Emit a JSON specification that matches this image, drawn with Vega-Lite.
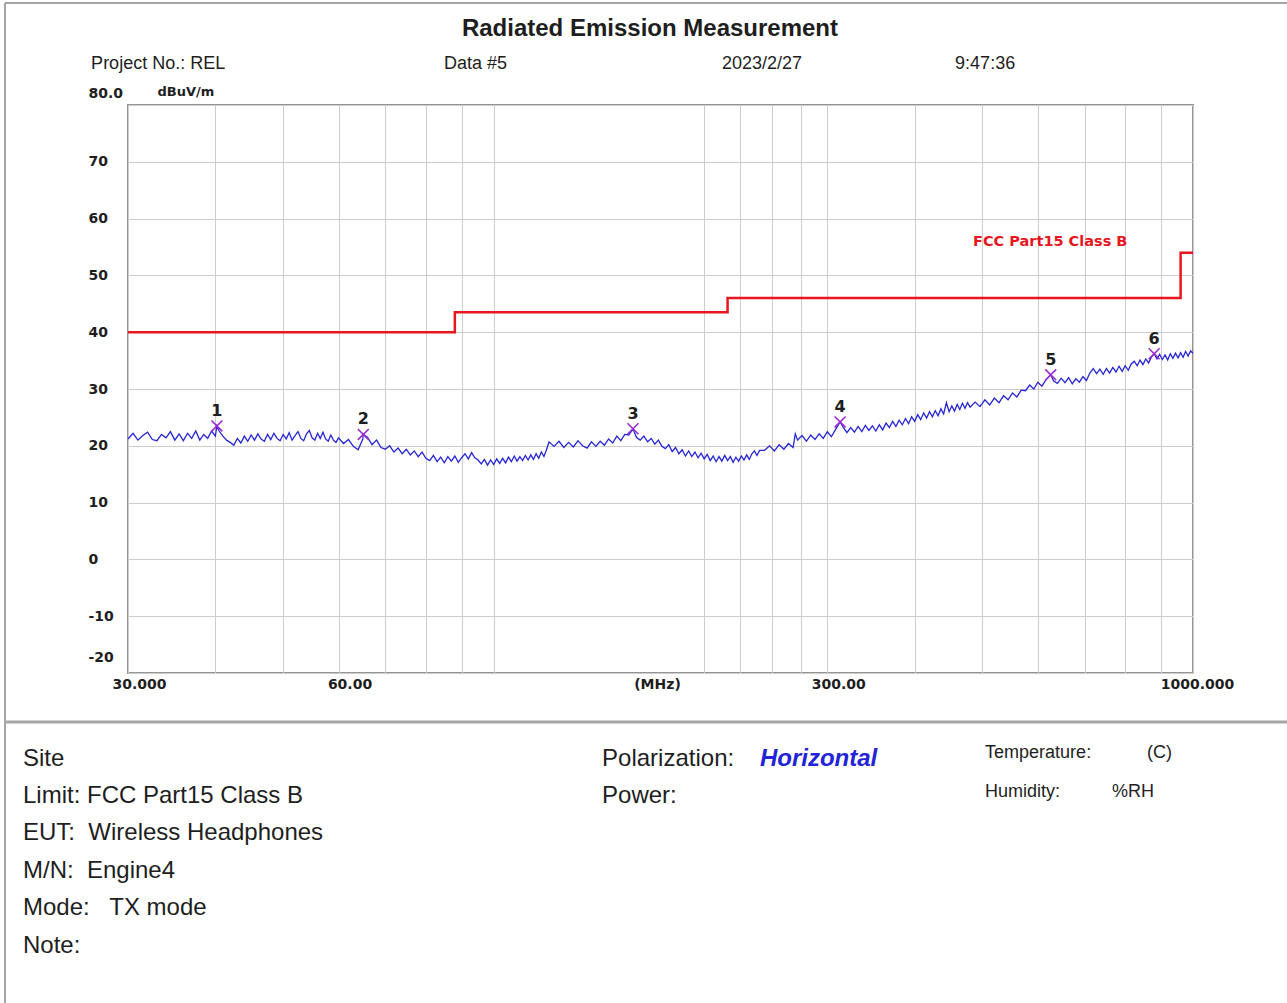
{
  "$schema": "https://vega.github.io/schema/vega-lite/v6.json",
  "width": 1065,
  "height": 568,
  "autosize": {"type": "none"},
  "padding": {"left": 128, "top": 105, "right": 94, "bottom": 330},
  "background": "white",
  "config": {
    "view": {"stroke": "#959595", "strokeWidth": 2},
    "text": {"font": "Liberation Sans", "color": "#1e1e1e"}
  },
  "datasets": {
    "trace": [
      {"f":30,"v":21.2},{"f":30.5,"v":22.2},{"f":31,"v":21.0},{"f":31.5,"v":21.8},{"f":32,"v":22.4},{"f":32.5,"v":21.1},{"f":33,"v":20.9},{"f":33.5,"v":22.0},{"f":34,"v":21.4},{"f":34.5,"v":22.5},
      {"f":35,"v":21.0},{"f":35.5,"v":22.1},{"f":36,"v":20.9},{"f":36.5,"v":22.2},{"f":37,"v":21.3},{"f":37.5,"v":22.6},{"f":38,"v":21.0},{"f":38.5,"v":22.0},{"f":39,"v":21.3},{"f":39.5,"v":22.6},
      {"f":40,"v":21.7},{"f":40.2,"v":23.5},{"f":40.5,"v":22.6},{"f":41,"v":21.7},{"f":41.5,"v":21.0},{"f":42,"v":20.6},{"f":42.5,"v":20.1},{"f":43,"v":21.3},{"f":43.5,"v":20.5},{"f":44,"v":21.7},
      {"f":44.5,"v":20.8},{"f":45,"v":21.9},{"f":45.5,"v":21.0},{"f":46,"v":22.1},{"f":46.5,"v":21.2},{"f":47,"v":20.8},{"f":47.5,"v":22.0},{"f":48,"v":21.1},{"f":48.5,"v":22.2},{"f":49,"v":21.3},
      {"f":49.5,"v":20.9},{"f":50,"v":22.0},{"f":50.5,"v":21.2},{"f":51,"v":22.3},{"f":51.5,"v":21.0},{"f":52,"v":21.8},{"f":52.5,"v":22.5},{"f":53,"v":21.3},{"f":53.5,"v":20.9},{"f":54,"v":22.1},
      {"f":54.5,"v":22.7},{"f":55,"v":21.4},{"f":55.5,"v":21.0},{"f":56,"v":22.2},{"f":56.5,"v":21.3},{"f":57,"v":22.4},{"f":57.5,"v":21.2},{"f":58,"v":20.8},{"f":58.5,"v":21.9},{"f":59,"v":21.0},
      {"f":59.5,"v":20.6},{"f":60,"v":21.4},
      {"f":61,"v":20.4},{"f":62,"v":21.1},{"f":63,"v":19.9},{"f":64,"v":19.3},{"f":65,"v":21.2},{"f":65.1,"v":22.0},{"f":66,"v":21.5},{"f":67,"v":20.2},{"f":68,"v":21.0},{"f":69,"v":19.7},
      {"f":70,"v":19.4},{"f":71,"v":20.0},{"f":72,"v":18.9},{"f":73,"v":19.6},{"f":74,"v":18.6},{"f":75,"v":19.4},{"f":76,"v":18.4},{"f":77,"v":19.1},{"f":78,"v":18.1},{"f":79,"v":18.9},
      {"f":80,"v":17.8},{"f":81,"v":17.4},{"f":82,"v":18.3},{"f":83,"v":17.2},{"f":84,"v":18.0},{"f":85,"v":17.0},{"f":86,"v":18.1},{"f":87,"v":17.3},{"f":88,"v":18.2},{"f":89,"v":17.1},
      {"f":90,"v":17.9},{"f":91,"v":18.6},{"f":92,"v":17.7},{"f":93,"v":18.8},{"f":94,"v":17.9},{"f":95,"v":17.5},{"f":96,"v":16.8},{"f":97,"v":17.6},{"f":98,"v":16.6},{"f":99,"v":17.5},
      {"f":100,"v":16.7},{"f":101,"v":17.7},{"f":102,"v":16.9},{"f":103,"v":17.8},{"f":104,"v":17.0},{"f":105,"v":18.0},{"f":106,"v":17.2},{"f":107,"v":18.2},{"f":108,"v":17.3},{"f":109,"v":18.1},
      {"f":110,"v":17.4},{"f":111,"v":18.3},{"f":112,"v":17.5},{"f":113,"v":18.4},{"f":114,"v":17.6},{"f":115,"v":18.6},{"f":116,"v":17.8},{"f":117,"v":18.9},{"f":118,"v":18.1},{"f":119,"v":19.3},
      {"f":120,"v":20.7},
      {"f":122,"v":19.9},{"f":124,"v":20.8},{"f":126,"v":19.7},{"f":128,"v":20.6},{"f":130,"v":19.8},{"f":132,"v":20.9},{"f":134,"v":20.0},{"f":136,"v":19.6},{"f":138,"v":20.7},{"f":140,"v":19.9},
      {"f":142,"v":20.8},{"f":144,"v":20.1},{"f":146,"v":21.2},{"f":148,"v":20.5},{"f":150,"v":21.7},{"f":152,"v":20.9},{"f":154,"v":22.0},{"f":156,"v":21.9},{"f":158.2,"v":23.0},{"f":160,"v":21.5},
      {"f":162,"v":21.0},{"f":164,"v":21.7},{"f":166,"v":20.7},{"f":168,"v":21.3},{"f":170,"v":20.3},{"f":172,"v":21.0},{"f":174,"v":19.9},{"f":176,"v":19.5},{"f":178,"v":20.2},{"f":180,"v":19.0},
      {"f":182,"v":19.7},{"f":184,"v":18.6},{"f":186,"v":19.3},{"f":188,"v":18.2},{"f":190,"v":19.1},{"f":192,"v":18.1},{"f":194,"v":18.9},{"f":196,"v":17.9},{"f":198,"v":18.7},{"f":200,"v":17.7},
      {"f":202,"v":18.5},{"f":204,"v":17.4},{"f":206,"v":18.2},{"f":208,"v":17.2},{"f":210,"v":18.1},{"f":212,"v":17.3},{"f":214,"v":18.3},{"f":216,"v":17.4},{"f":218,"v":18.1},{"f":220,"v":17.1},
      {"f":222,"v":18.0},{"f":224,"v":17.3},{"f":226,"v":18.2},{"f":228,"v":17.5},{"f":230,"v":18.4},{"f":232,"v":17.6},{"f":234,"v":18.6},{"f":236,"v":19.1},{"f":238,"v":18.3},{"f":240,"v":19.2},
      {"f":244,"v":19.2},{"f":248,"v":20.0},{"f":252,"v":19.1},{"f":256,"v":20.2},{"f":260,"v":19.4},{"f":264,"v":20.4},{"f":268,"v":19.7},{"f":270,"v":22.1},{"f":272,"v":21.0},{"f":276,"v":21.8},
      {"f":280,"v":20.8},{"f":284,"v":21.9},{"f":288,"v":21.1},{"f":292,"v":22.1},{"f":296,"v":21.3},{"f":300,"v":22.5},{"f":304,"v":21.6},{"f":308,"v":22.8},{"f":312.9,"v":24.2},{"f":316,"v":23.3},
      {"f":320,"v":22.3},{"f":324,"v":23.2},{"f":328,"v":22.4},{"f":332,"v":23.4},{"f":336,"v":22.5},{"f":340,"v":23.6},{"f":344,"v":22.7},{"f":348,"v":23.5},{"f":352,"v":22.6},{"f":356,"v":23.7},
      {"f":360,"v":22.8},{"f":364,"v":24.0},{"f":368,"v":23.2},{"f":372,"v":24.3},{"f":376,"v":23.4},{"f":380,"v":24.5},{"f":384,"v":23.7},{"f":388,"v":24.8},{"f":392,"v":23.9},{"f":396,"v":25.1},
      {"f":400,"v":24.3},{"f":404,"v":25.5},{"f":408,"v":24.6},{"f":412,"v":25.8},{"f":416,"v":24.9},{"f":420,"v":26.0},{"f":424,"v":25.1},{"f":428,"v":26.2},{"f":432,"v":25.3},{"f":436,"v":26.5},
      {"f":440,"v":25.6},{"f":444,"v":27.6},{"f":448,"v":26.0},{"f":452,"v":27.0},{"f":456,"v":26.1},{"f":460,"v":27.3},{"f":464,"v":26.4},{"f":468,"v":27.5},{"f":472,"v":26.6},{"f":476,"v":27.6},
      {"f":480,"v":26.8},
      {"f":488,"v":27.7},{"f":496,"v":26.9},{"f":504,"v":28.1},{"f":512,"v":27.2},{"f":520,"v":28.4},{"f":528,"v":27.6},{"f":536,"v":28.8},{"f":544,"v":28.1},{"f":552,"v":29.3},{"f":560,"v":28.6},
      {"f":568,"v":29.8},{"f":576,"v":29.7},{"f":584,"v":30.7},{"f":592,"v":30.0},{"f":600,"v":31.2},{"f":608,"v":30.5},{"f":616,"v":31.6},{"f":626,"v":32.5},{"f":632,"v":31.4},{"f":640,"v":31.0},
      {"f":648,"v":31.9},{"f":656,"v":31.1},{"f":664,"v":32.0},{"f":672,"v":30.9},{"f":680,"v":31.8},{"f":688,"v":31.2},{"f":696,"v":32.2},{"f":704,"v":31.5},{"f":712,"v":32.8},{"f":720,"v":33.6},
      {"f":728,"v":32.7},{"f":736,"v":33.5},{"f":744,"v":32.6},{"f":752,"v":33.6},{"f":760,"v":32.8},{"f":768,"v":33.8},{"f":776,"v":33.0},{"f":784,"v":34.0},{"f":792,"v":33.1},{"f":800,"v":34.1},
      {"f":808,"v":33.3},{"f":816,"v":34.4},{"f":824,"v":34.9},{"f":832,"v":34.1},{"f":840,"v":35.1},{"f":848,"v":34.3},{"f":856,"v":35.3},{"f":864,"v":34.6},{"f":872,"v":35.6},{"f":880,"v":36.2},
      {"f":888,"v":35.3},{"f":896,"v":36.1},{"f":904,"v":35.2},{"f":912,"v":36.0},{"f":920,"v":35.1},{"f":928,"v":36.2},{"f":936,"v":35.4},{"f":944,"v":36.3},{"f":952,"v":35.5},{"f":960,"v":36.4},
      {"f":968,"v":35.6},{"f":976,"v":36.6},{"f":984,"v":35.8},{"f":992,"v":36.7},{"f":1000,"v":36.3}
    ],
    "limit": [
      {"f":30,"v":40},{"f":88,"v":43.5},{"f":216,"v":46},{"f":960,"v":54},{"f":1000,"v":54}
    ],
    "peaks": [
      {"n":"1","f":40.2,"v":23.5},{"n":"2","f":65.1,"v":22.0},{"n":"3","f":158.2,"v":23.0},
      {"n":"4","f":312.9,"v":24.2},{"n":"5","f":626,"v":32.5},{"n":"6","f":880,"v":36.2}
    ]
  },
  "layer": [
    {
      "data": {"name": "trace"},
      "mark": {"type": "line", "color": "#2626d4", "strokeWidth": 1.3, "clip": false},
      "encoding": {
        "x": {
          "field": "f", "type": "quantitative",
          "scale": {"type": "log", "domain": [30, 1000], "nice": false},
          "axis": {
            "title": "(MHz)",
            "values": [30,40,50,60,70,80,90,100,200,225,250,275,300,400,500,600,700,800,900,1000],
            "labelExpr": "datum.value == 30 ? '30.000' : datum.value == 60 ? '60.00' : datum.value == 300 ? '\u2007300.00' : datum.value == 1000 ? '1000.000' : ''",
            "grid": true, "gridColor": "#cdcdcd", "gridWidth": 1,
            "ticks": false, "domain": false,
            "labelFont": "DejaVu Sans", "labelFontWeight": "bold", "labelFontSize": 14, "labelColor": "#1e1e1e",
            "labelBaseline": "top", "labelPadding": 4,
            "labelOffset": {"condition": {"test": "datum.value == 1000", "value": 4}, "value": 11},
            "labelOverlap": false, "labelFlush": false, "labelBound": false,
            "titleFont": "DejaVu Sans", "titleFontWeight": "bold", "titleFontSize": 14, "titleColor": "#1e1e1e",
            "titleX": 529, "titleY": 4, "titleAlign": "center", "titleBaseline": "top"
          }
        },
        "y": {
          "field": "v", "type": "quantitative",
          "scale": {"domain": [-20, 80], "nice": false, "zero": false},
          "axis": {
            "title": "dBuV/m",
            "values": [-20,-10,0,10,20,30,40,50,60,70,80],
            "labelExpr": "datum.value == 80 ? '80.0' : '' + datum.value",
            "grid": true, "gridColor": "#cdcdcd", "gridWidth": 1,
            "ticks": false, "domain": false,
            "labelFont": "DejaVu Sans", "labelFontWeight": "bold", "labelFontSize": 14, "labelColor": "#1e1e1e",
            "labelAlign": "left", "labelPadding": 40,
            "labelBaseline": {"condition": {"test": "datum.value == -20", "value": "alphabetic"}, "value": "middle"},
            "labelOffset": {"condition": {"test": "datum.value == 80 || datum.value == -20", "value": -12}, "value": 0},
            "labelOverlap": false, "labelFlush": false, "labelBound": false,
            "titleFont": "DejaVu Sans", "titleFontWeight": "bold", "titleFontSize": 13, "titleColor": "#1e1e1e",
            "titleAngle": 0, "titleAlign": "left", "titleBaseline": "middle", "titleX": 29, "titleY": -14
          }
        }
      }
    },
    {
      "data": {"name": "limit"},
      "mark": {"type": "line", "color": "#e8161e", "strokeWidth": 2.5, "interpolate": "step-after", "clip": false},
      "encoding": {
        "x": {"field": "f", "type": "quantitative"},
        "y": {"field": "v", "type": "quantitative"}
      }
    },
    {
      "data": {"name": "peaks"},
      "mark": {"type": "point", "shape": "M-1,-1L1,1M-1,1L1,-1", "filled": false, "size": 120, "strokeWidth": 1.6, "color": "#9a2ccf", "opacity": 1},
      "encoding": {
        "x": {"field": "f", "type": "quantitative"},
        "y": {"field": "v", "type": "quantitative"}
      }
    },
    {
      "data": {"name": "peaks"},
      "mark": {"type": "text", "font": "DejaVu Sans", "fontWeight": "bold", "fontSize": 16, "dy": -15, "baseline": "middle", "align": "center"},
      "encoding": {
        "x": {"field": "f", "type": "quantitative"},
        "y": {"field": "v", "type": "quantitative"},
        "text": {"field": "n"}
      }
    },
    {
      "data": {"values": [{}]},
      "mark": {"type": "text", "text": "FCC Part15 Class B", "font": "DejaVu Sans", "fontWeight": "bold", "fontSize": 14.5, "color": "#e8161e", "align": "left", "baseline": "alphabetic", "clip": false},
      "encoding": {"x": {"datum": 484.7, "type": "quantitative"}, "y": {"datum": 55.2, "type": "quantitative"}}
    },
    {
      "data": {"values": [{}]},
      "mark": {"type": "text", "text": "Radiated Emission Measurement", "fontWeight": "bold", "fontSize": 24, "align": "center", "baseline": "alphabetic", "clip": false},
      "encoding": {"x": {"datum": 167.3, "type": "quantitative"}, "y": {"datum": 92.2, "type": "quantitative"}}
    },
    {
      "data": {"values": [{}]},
      "mark": {"type": "text", "text": "Project No.: REL", "fontSize": 18, "align": "left", "baseline": "alphabetic", "clip": false},
      "encoding": {"x": {"datum": 26.57, "type": "quantitative"}, "y": {"datum": 86.4, "type": "quantitative"}}
    },
    {
      "data": {"values": [{}]},
      "mark": {"type": "text", "text": "Data #5", "fontSize": 18, "align": "left", "baseline": "alphabetic", "clip": false},
      "encoding": {"x": {"datum": 84.9, "type": "quantitative"}, "y": {"datum": 86.4, "type": "quantitative"}}
    },
    {
      "data": {"values": [{}]},
      "mark": {"type": "text", "text": "2023/2/27", "fontSize": 18, "align": "left", "baseline": "alphabetic", "clip": false},
      "encoding": {"x": {"datum": 212.1, "type": "quantitative"}, "y": {"datum": 86.4, "type": "quantitative"}}
    },
    {
      "data": {"values": [{}]},
      "mark": {"type": "text", "text": "9:47:36", "fontSize": 18, "align": "left", "baseline": "alphabetic", "clip": false},
      "encoding": {"x": {"datum": 456.9, "type": "quantitative"}, "y": {"datum": 86.4, "type": "quantitative"}}
    },
    {
      "data": {"values": [{}]},
      "mark": {"type": "rule", "color": "#a6a6a6", "strokeWidth": 2, "clip": false},
      "encoding": {"x": {"datum": 20.01, "type": "quantitative"}, "x2": {"datum": 1400}, "y": {"datum": 97.96, "type": "quantitative"}}
    },
    {
      "data": {"values": [{}]},
      "mark": {"type": "rule", "color": "#a6a6a6", "strokeWidth": 2, "clip": false},
      "encoding": {"x": {"datum": 20.01, "type": "quantitative"}, "y": {"datum": 97.96, "type": "quantitative"}, "y2": {"datum": -82}}
    },
    {
      "data": {"values": [{}]},
      "mark": {"type": "rule", "color": "#a6a6a6", "strokeWidth": 3, "clip": false},
      "encoding": {"x": {"datum": 20.01, "type": "quantitative"}, "x2": {"datum": 1400}, "y": {"datum": -28.63, "type": "quantitative"}}
    },
    {
      "data": {"values": [{}]},
      "mark": {"type": "text", "text": ["Site", "Limit: FCC Part15 Class B", "EUT:\u00a0 Wireless Headphones", "M/N:\u00a0 Engine4", "Mode:\u00a0\u00a0 TX mode", "Note:"], "fontSize": 24, "lineHeight": 37.4, "align": "left", "baseline": "alphabetic", "clip": false},
      "encoding": {"x": {"datum": 21.23, "type": "quantitative"}, "y": {"datum": -36.3, "type": "quantitative"}}
    },
    {
      "data": {"values": [{}]},
      "mark": {"type": "text", "text": ["Polarization:", "Power:"], "fontSize": 24, "lineHeight": 37.4, "align": "left", "baseline": "alphabetic", "clip": false},
      "encoding": {"x": {"datum": 142.9, "type": "quantitative"}, "y": {"datum": -36.3, "type": "quantitative"}}
    },
    {
      "data": {"values": [{}]},
      "mark": {"type": "text", "text": "Horizontal", "fontSize": 24, "fontWeight": "bold", "fontStyle": "italic", "color": "#2323d8", "align": "left", "baseline": "alphabetic", "clip": false},
      "encoding": {"x": {"datum": 240.3, "type": "quantitative"}, "y": {"datum": -36.3, "type": "quantitative"}}
    },
    {
      "data": {"values": [{}]},
      "mark": {"type": "text", "text": ["Temperature:", "Humidity:"], "fontSize": 18, "lineHeight": 39, "align": "left", "baseline": "alphabetic", "clip": false},
      "encoding": {"x": {"datum": 504.3, "type": "quantitative"}, "y": {"datum": -35.05, "type": "quantitative"}}
    },
    {
      "data": {"values": [{}]},
      "mark": {"type": "text", "text": "(C)", "fontSize": 18, "align": "left", "baseline": "alphabetic", "clip": false},
      "encoding": {"x": {"datum": 859.8, "type": "quantitative"}, "y": {"datum": -35.05, "type": "quantitative"}}
    },
    {
      "data": {"values": [{}]},
      "mark": {"type": "text", "text": "%RH", "fontSize": 18, "align": "left", "baseline": "alphabetic", "clip": false},
      "encoding": {"x": {"datum": 766, "type": "quantitative"}, "y": {"datum": -41.9, "type": "quantitative"}}
    }
  ]
}
